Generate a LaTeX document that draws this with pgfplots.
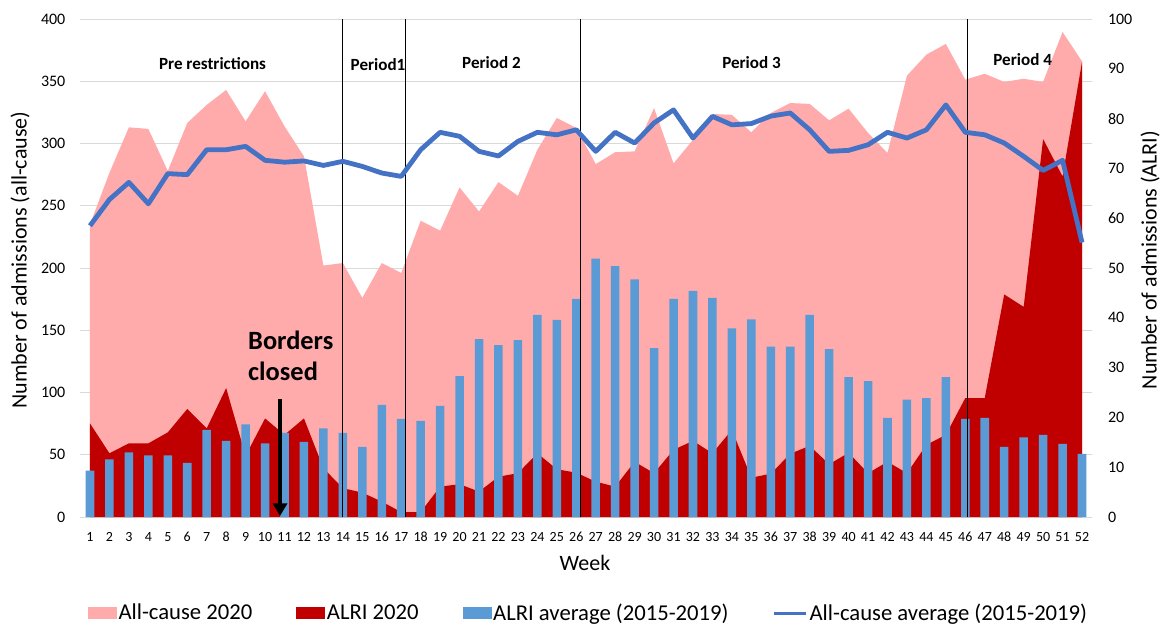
\documentclass[border=0pt]{standalone}
\usepackage{pgfplots}
\pgfplotsset{compat=1.18}
\usepackage{pgfplotstable}
\usepackage{fontspec}
\setmainfont{Carlito}
\usetikzlibrary{arrows.meta}
\definecolor{allc}{RGB}{255,171,171}
\definecolor{alric}{RGB}{192,0,0}
\definecolor{barc}{RGB}{91,155,213}
\definecolor{linec}{RGB}{68,114,196}
\definecolor{gridc}{RGB}{217,217,217}
\pgfplotstableread{
week allc alri avg line
1 235 18.8 9.3 234
2 276.5 12.8 11.6 255
3 313 14.8 13.0 268.8
4 311.7 14.8 12.4 251.6
5 278 17.0 12.4 275.8
6 316.5 21.7 10.9 275
7 331 17.8 17.5 295
8 343 25.9 15.3 295
9 317.8 12.3 18.6 297.7
10 342 19.8 14.8 286.5
11 313.8 16.5 16.9 285
12 289.7 19.8 15.1 286
13 202 9.8 17.8 282.4
14 204 5.8 16.9 285.7
15 176 4.9 14.1 281.6
16 204 3.1 22.5 276.3
17 196 1.0 19.7 273.6
18 238 1.0 19.3 295
19 230 6.1 22.3 309
20 264.7 6.6 28.3 305.8
21 245.4 5.1 35.7 293.7
22 269 8.1 34.5 290
23 258 8.8 35.5 301.7
24 295 12.8 40.6 309
25 320.5 9.6 39.6 307
26 312.5 8.9 43.8 311
27 283.5 7.1 51.9 293.7
28 293 6.1 50.4 309
29 293.7 11.1 47.7 300.4
30 328.5 8.8 33.9 316.5
31 284 13.5 43.8 327
32 303 15.3 45.4 304.4
33 323.7 12.8 44.0 321.8
34 323 17.5 37.9 315
35 309 7.9 39.7 316
36 324.5 8.7 34.2 322
37 332.5 12.7 34.2 324.5
38 331.8 14.3 40.6 311
39 318.6 10.6 33.7 293.7
40 328 12.9 28.1 294.5
41 308.5 8.8 27.3 299
42 292.4 11.1 19.9 309
43 354.5 8.8 23.6 304.4
44 371.4 14.5 23.9 311
45 380 16.5 28.1 331
46 351.3 23.9 19.7 309
47 356 23.9 19.9 307
48 349.5 44.7 14.1 300.4
49 352 42.2 16.0 289.7
50 349.5 75.9 16.5 278.4
51 389.6 68.4 14.7 286.5
52 366 91.4 12.7 220.5
}\datatable
\pgfplotsset{
  base/.style={
    at={(0,0)}, anchor=south west, scale only axis,
    width=758.55pt, height=373.5pt,
    xmin=0.5, xmax=52.5,
    axis line style={draw=none}, tick style={draw=none},
    /pgf/number format/assume math mode=true,
  }
}
\begin{document}
\begin{tikzpicture}
\path[use as bounding box] (-60.2pt,-81.75pt) rectangle (816.5pt,387.75pt);
% left axis: all-cause 2020 area
\begin{axis}[base,
  ymin=0, ymax=400, ytick={0,50,...,400},
  xtick={1,...,52},
  ymajorgrids, major grid style={gridc, line width=0.75pt},
  yticklabel style={font=\fontsize{12}{14}\selectfont, anchor=east, inner sep=0pt, xshift=-11pt},
  xticklabel style={font=\fontsize{10.5}{12}\selectfont, anchor=center, inner sep=0pt, yshift=-15pt},
  ylabel={Number of admissions (all-cause)},
  ylabel style={at={(axis description cs:-0.0596,0.516)}, anchor=center, font=\fontsize{16.5}{19}\selectfont},
  xlabel={Week},
  xlabel style={at={(axis description cs:0.499,-0.0924)}, anchor=center, font=\fontsize{16.5}{19}\selectfont},
]
\addplot[fill=allc, draw=none] table[x=week, y=allc] {\datatable} \closedcycle;
\end{axis}
% right axis: ALRI 2020 area and ALRI average bars
\begin{axis}[base,
  ymin=0, ymax=100, ytick={0,10,...,100},
  hide x axis, yticklabel pos=right,
  yticklabel style={font=\fontsize{12}{14}\selectfont, anchor=west, inner sep=0pt, xshift=12pt},
  ylabel={Number of admissions (ALRI)},
  ylabel style={at={(axis description cs:1.0577,0.516)}, anchor=center, rotate=0, font=\fontsize{16.5}{19}\selectfont},
]
\addplot[fill=alric, draw=none] table[x=week, y=alri] {\datatable} \closedcycle;
\addplot[ybar, bar width=6.4pt, fill=barc, draw=none] table[x=week, y=avg] {\datatable};
\draw[black, line width=0.9pt] (axis cs:14,0) -- (axis cs:14,100);
\draw[black, line width=0.9pt] (axis cs:17.2,0) -- (axis cs:17.2,100);
\draw[black, line width=0.9pt] (axis cs:26.2,0) -- (axis cs:26.2,100);
\draw[black, line width=0.9pt] (axis cs:46.1,0) -- (axis cs:46.1,100);
\end{axis}
% left scale overlay: all-cause average line, annotations, legend
\begin{axis}[base,
  ymin=0, ymax=400, hide axis, clip=false,
  legend columns=4,
  legend style={at={(axis description cs:0.5025,-0.1928)}, anchor=center, draw=none, fill=none,
    font=\fontsize{17}{20}\selectfont,
    /tikz/every odd column/.append style={column sep=0pt},
    /tikz/every even column/.append style={column sep=31.5pt},
    nodes={inner sep=1.5pt}},
]
\addplot[linec, line width=3.6pt, line join=round, forget plot] table[x=week, y=line] {\datatable};
\addlegendimage{legend image code/.code={\fill[allc] (0pt,-4.1pt) rectangle (21pt,4.1pt);}}
\addlegendentry{All-cause 2020}
\addlegendimage{legend image code/.code={\fill[alric] (0pt,-4.1pt) rectangle (21pt,4.1pt);}}
\addlegendentry{ALRI 2020}
\addlegendimage{legend image code/.code={\fill[barc] (0pt,-4.1pt) rectangle (21pt,4.1pt);}}
\addlegendentry{ALRI average (2015-2019)}
\addlegendimage{legend image code/.code={\draw[linec, line width=2.3pt] (0pt,0pt) -- (24pt,0pt);}}
\addlegendentry{All-cause average (2015-2019)}
\node[anchor=base, font=\bfseries\fontsize{12.8}{15}\selectfont] at (axis cs:7.30,359.3) {Pre restrictions};
\node[anchor=base, font=\bfseries\fontsize{12.8}{15}\selectfont] at (axis cs:15.81,358.5) {Period1};
\node[anchor=base, font=\bfseries\fontsize{12.8}{15}\selectfont] at (axis cs:21.64,359.9) {Period 2};
\node[anchor=base, font=\bfseries\fontsize{12.8}{15}\selectfont] at (axis cs:35.01,359.9) {Period 3};
\node[anchor=base, font=\bfseries\fontsize{12.8}{15}\selectfont] at (axis cs:48.95,362.8) {Period 4};
\node[anchor=base west, inner sep=0pt, font=\bfseries\fontsize{19.8}{23}\selectfont] at (axis cs:9.12,134.3) {Borders};
\node[anchor=base west, inner sep=0pt, font=\bfseries\fontsize{19.8}{23}\selectfont] at (axis cs:9.12,109.3) {closed};
\draw[black, line width=3pt, -{Triangle[width=10.5pt,length=9.5pt]}] (axis cs:10.77,94.9) -- (axis cs:10.77,0.8);
\end{axis}
\end{tikzpicture}
\end{document}
